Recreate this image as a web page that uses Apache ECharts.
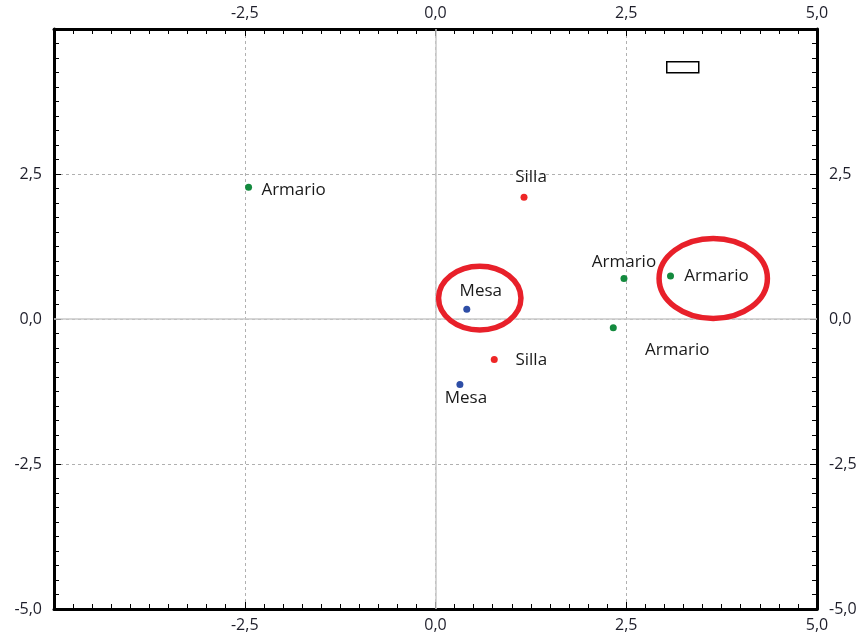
<!DOCTYPE html>
<html><head><meta charset="utf-8">
<script src="https://cdn.jsdelivr.net/npm/echarts@6/dist/echarts.min.js"></script>
<style>html,body{margin:0;padding:0;background:#fff}#c{width:865px;height:635px}</style>
</head><body><div id="c"></div>
<script>
// Data
const armario = [[-2.45, 2.27], [2.47, 0.70], [3.08, 0.74], [2.33, -0.15]];
const silla   = [[1.16, 2.10], [0.77, -0.70]];
const mesa    = [[0.41, 0.17], [0.32, -1.13]];
const pointLabels = { armario: 'Armario', silla: 'Silla', mesa: 'Mesa' };
// annotation ellipses in data units: [cx, cy, rx, ry]
const highlights = [[0.58, 0.36, 0.54, 0.55], [3.64, 0.70, 0.71, 0.69]];
const axisMin = -5, axisMax = 5, axisStep = 2.5;

// label layout (pixel offsets of label centre from point)
const armarioOffsets = [[45, 3], [0, -16], [46, 0], [64, 22]];
const sillaOffsets = [[7, -20], [37, 1]];
const mesaOffsets = [[14, -18], [6, 14]];

const fmt = v => v.toFixed(1).replace('.', ',');
const font = '"Open Sans", "Noto Sans", sans-serif';
const labelColor = '#1e1e2a';

function mkData(arr, offs) {
  return arr.map((p, i) => ({ value: p, label: { offset: offs[i] } }));
}
function pointSeries(name, arr, offs, color) {
  return {
    type: 'scatter', name: name, data: mkData(arr, offs), symbolSize: 7,
    itemStyle: { color: color, opacity: 1 },
    label: { show: true, position: 'inside', formatter: name, color: '#1a1a1a', fontSize: 17, fontFamily: font },
    xAxisIndex: 0, yAxisIndex: 0, z: 5
  };
}
function xAxis(pos, showGrid) {
  return {
    type: 'value', position: pos, min: axisMin, max: axisMax, interval: axisStep,
    axisLine: { show: true, onZero: false, lineStyle: { color: '#000', width: 3 } },
    axisTick: { show: true, inside: true, length: 7, lineStyle: { color: '#000', width: 1 } },
    minorTick: { show: true, splitNumber: 10, length: 5, lineStyle: { color: '#000', width: 1 } },
    axisLabel: { show: true, showMinLabel: false, formatter: fmt, color: labelColor, fontSize: 16, fontFamily: font, margin: 8 },
    splitLine: { show: showGrid, lineStyle: { color: '#b0b0b0', type: [3, 3], width: 1 } }
  };
}
function yAxis(pos, showGrid) {
  return {
    type: 'value', position: pos, min: axisMin, max: axisMax, interval: axisStep,
    axisLine: { show: true, onZero: false, lineStyle: { color: '#000', width: 3 } },
    axisTick: { show: true, inside: true, length: 7, lineStyle: { color: '#000', width: 1 } },
    minorTick: { show: true, splitNumber: 10, length: 5, lineStyle: { color: '#000', width: 1 } },
    axisLabel: { show: true, showMaxLabel: false, formatter: fmt, color: labelColor, fontSize: 16, fontFamily: font, margin: 12 },
    splitLine: { show: showGrid, lineStyle: { color: '#b0b0b0', type: [3, 3], width: 1 } }
  };
}

const chart = echarts.init(document.getElementById('c'), null, { renderer: 'canvas' });
chart.setOption({
  backgroundColor: '#fff',
  animation: false,
  grid: { left: 54, right: 48, top: 29, bottom: 26 },
  xAxis: [xAxis('bottom', true), xAxis('top', false)],
  yAxis: [yAxis('left', true), yAxis('right', false)],
  graphic: [{ type: 'rect', left: 666, top: 61, shape: { width: 32, height: 11 }, style: { fill: '#fff', stroke: '#000', lineWidth: 1.5 }, z: 10 }],
  series: [
    {
      type: 'line', data: [], xAxisIndex: 0, yAxisIndex: 0, silent: true,
      markLine: {
        symbol: 'none', silent: true, label: { show: false },
        lineStyle: { color: '#c8c8c8', type: 'solid', width: 1.5 },
        data: [{ xAxis: 0 }, { yAxis: 0 }]
      }
    },
    pointSeries(pointLabels.armario, armario, armarioOffsets, '#138a3e'),
    pointSeries(pointLabels.silla, silla, sillaOffsets, '#ee2626'),
    pointSeries(pointLabels.mesa, mesa, mesaOffsets, '#2e4ea6'),
    {
      type: 'custom', xAxisIndex: 0, yAxisIndex: 0, silent: true, z: 8,
      data: highlights,
      renderItem: function (params, api) {
        const c = api.coord([api.value(0), api.value(1)]);
        const s = api.size([api.value(2), api.value(3)]);
        return {
          type: 'ellipse',
          shape: { cx: c[0], cy: c[1], rx: s[0], ry: s[1] },
          style: { fill: 'none', stroke: '#e8202a', lineWidth: 5.5 }
        };
      }
    }
  ]
});
</script></body></html>
